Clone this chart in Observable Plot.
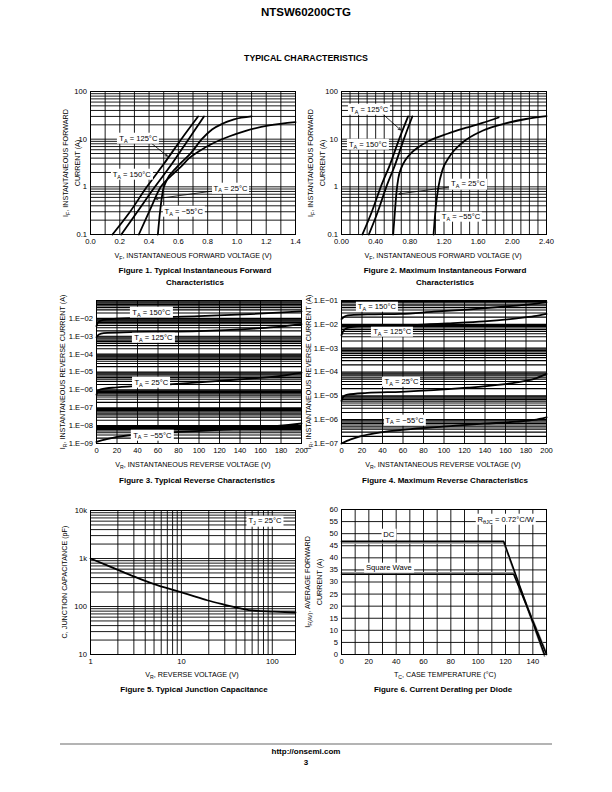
<!DOCTYPE html>
<html><head><meta charset="utf-8">
<script src="https://cdn.jsdelivr.net/npm/d3@7"></script>
<script src="https://cdn.jsdelivr.net/npm/@observablehq/plot@0.6"></script>
<style>
html,body{margin:0;padding:0;background:#fff;}
#page{position:relative;width:612px;height:792px;overflow:hidden;font-family:"Liberation Sans",Arial,Helvetica,sans-serif;color:#000;background:#fff;}
.t{position:absolute;white-space:nowrap;line-height:1;transform:translate(-50%,-50%);}
.b{font-weight:bold;}
.ax{font-size:7.2px;}
.cap{font-size:8px;font-weight:bold;}
.yt{transform:translate(-50%,-50%) rotate(-90deg);text-align:center;line-height:11px;}
.lab{position:absolute;white-space:nowrap;line-height:1;background:#fff;padding:1.5px 2px;font-size:7.6px;transform:translate(-50%,-50%);z-index:2;}
.s{font-size:0.72em;position:relative;top:0.32em;}
</style></head><body><div id="page"></div><script>
// ---------------- DATA ----------------
// Figure 1: typical instantaneous forward characteristics [V, A]
const fig1_T150 = [[0.15,0.1],[0.27,0.3],[0.385,1],[0.50,3],[0.62,10],[0.735,30]];
const fig1_T125 = [[0.21,0.1],[0.32,0.3],[0.44,1],[0.555,3],[0.67,10],[0.775,30]];
const fig1_T25  = [[0.33,0.1],[0.41,0.35],[0.48,1.0],[0.55,1.7],[0.62,2.7],[0.67,3.9],[0.75,5.8],[0.83,8],[0.95,11.5],[1.06,15],[1.22,19.4],[1.4,22.7]];
const fig1_Tm55 = [[0.46,0.1],[0.475,0.3],[0.495,0.84],[0.52,1.36],[0.59,2.6],[0.69,5.3],[0.76,10],[0.83,16],[0.9,21],[0.98,26],[1.1,30]];
const fig1_xTicks = [0,0.2,0.4,0.6,0.8,1.0,1.2,1.4];
const fig1_yTicks = [0.1,1,10,100];

// Figure 2: maximum instantaneous forward characteristics [V, A]
const fig2_T150 = [[0.245,0.1],[0.355,0.3],[0.46,1],[0.57,3],[0.675,10],[0.78,30]];
const fig2_T125 = [[0.32,0.1],[0.425,0.3],[0.525,1],[0.63,3],[0.73,10],[0.83,30]];
const fig2_T25  = [[0.605,0.1],[0.625,0.3],[0.645,0.8],[0.665,1.5],[0.70,2.5],[0.75,3.7],[0.82,5.2],[0.90,6.8],[1.04,9.5],[1.24,13],[1.45,17.2],[1.65,22],[1.84,28.5]];
const fig2_Tm55 = [[1.078,0.1],[1.105,0.4],[1.135,1],[1.18,2.2],[1.26,4.2],[1.42,8.6],[1.65,15],[1.93,21.7],[2.16,26.5],[2.4,30.5]];
const fig2_xTicks = [0,0.4,0.8,1.2,1.6,2.0,2.4];
const fig2_yTicks = [0.1,1,10,100];

// Figure 3: typical reverse characteristics [V, A]
const fig3_T150 = [[0,3.7e-3],[1.3,5.6e-3],[4,7.4e-3],[10,8.7e-3],[43,1.07e-2],[100,1.35e-2],[150,1.74e-2],[200,2.45e-2]];
const fig3_T125 = [[0,8.9e-4],[2.3,1.26e-3],[7,1.5e-3],[33,1.7e-3],[100,1.94e-3],[150,2.6e-3],[173,3.2e-3],[200,4.8e-3]];
const fig3_T25  = [[0,5.4e-7],[1.3,8.3e-7],[4,1.07e-6],[20,1.38e-6],[60,1.82e-6],[100,2.6e-6],[150,4.3e-6],[180,6.0e-6],[200,9.1e-6]];
const fig3_Tm55 = [[0,1.23e-9],[10,1.74e-9],[20,2.34e-9],[40,3.16e-9],[80,4.47e-9],[120,5.75e-9],[160,7.76e-9],[200,1.32e-8]];
const fig3_xTicks = [0,20,40,60,80,100,120,140,160,180,200];
const fig3_yTicks = [1e-9,1e-8,1e-7,1e-6,1e-5,1e-4,1e-3,1e-2];

// Figure 4: maximum reverse characteristics [V, A]
const fig4_T150 = [[0,1.66e-2],[2,2.0e-2],[4,2.24e-2],[9,2.45e-2],[30,2.63e-2],[58,2.75e-2],[90,3.39e-2],[123,4.17e-2],[155,5.37e-2],[188,7.24e-2],[200,8.51e-2]];
const fig4_T125 = [[0,3.55e-3],[2.6,5.9e-3],[7.5,7.4e-3],[25,8.7e-3],[74,9.5e-3],[106,1.1e-2],[139,1.32e-2],[171,1.78e-2],[188,2.19e-2],[200,2.75e-2]];
const fig4_T25  = [[0,6.2e-6],[1.9,9.3e-6],[5.8,1.12e-5],[25,1.32e-5],[58,1.48e-5],[90,1.74e-5],[123,2.19e-5],[155,2.95e-5],[171,3.7e-5],[188,5.1e-5],[200,8.3e-5]];
const fig4_Tm55 = [[0,1.0e-7],[9,1.48e-7],[19,2.04e-7],[41.6,3.09e-7],[74,4.27e-7],[106,5.37e-7],[139,6.76e-7],[171,8.3e-7],[188,9.8e-7],[200,1.26e-6]];
const fig4_xTicks = [0,20,40,60,80,100,120,140,160,180,200];
const fig4_yTicks = [1e-7,1e-6,1e-5,1e-4,1e-3,1e-2,1e-1];

// Figure 5: typical junction capacitance [V, pF]
const fig5_C = [[1,1000],[1.5,727],[2.33,513],[3.55,371],[5.42,278],[8.27,219],[12.6,172],[19.2,135],[29.3,110],[44.8,91],[55,84],[70,81],[104,78],[180,75]];
const fig5_xTicks = [1,10,100];
const fig5_yTicks = [10,100,1000,10000];
const fig5_yLabels = ["10","100","1k","10k"];

// Figure 6: current derating per diode [°C, A]
const fig6_DC = [[0,46.8],[118.7,46.8],[148.5,0]];
const fig6_SW = [[0,33.2],[126,33.2],[150,0]];
const fig6_xTicks = [0,20,40,60,80,100,120,140];
const fig6_yTicks = [0,5,10,15,20,25,30,35,40,45,50,55,60];

// annotation anchors (data coordinates)
const fig1_labels = [{x:0.33,y:10.2,t:"T<span class=s>A</span> = 125°C"},{x:0.285,y:1.79,t:"T<span class=s>A</span> = 150°C"},{x:0.96,y:0.92,t:"T<span class=s>A</span> = 25°C"},{x:0.64,y:0.30,t:"T<span class=s>A</span> = −55°C"}];
const fig1_arrows = [{x1:0.40,y1:9,x2:0.525,y2:4.4},{x1:0.96,y1:0.92,x2:0.445,y2:0.56}];
const fig2_labels = [{x:0.33,y:41,t:"T<span class=s>A</span> = 125°C"},{x:0.316,y:7.6,t:"T<span class=s>A</span> = 150°C"},{x:1.487,y:1.12,t:"T<span class=s>A</span> = 25°C"},{x:1.405,y:0.23,t:"T<span class=s>A</span> = −55°C"}];
const fig2_arrows = [{x1:0.45,y1:38,x2:0.69,y2:15.7},{x1:1.487,y1:1.12,x2:0.671,y2:0.71}];
const fig3_labels = [{x:54,y:2.0e-2,t:"T<span class=s>A</span> = 150°C"},{x:56,y:7.8e-4,t:"T<span class=s>A</span> = 125°C"},{x:54,y:2.5e-6,t:"T<span class=s>A</span> = 25°C"},{x:55,y:2.8e-9,t:"T<span class=s>A</span> = −55°C"}];
const fig4_labels = [{x:35,y:5.2e-2,t:"T<span class=s>A</span> = 150°C"},{x:50,y:4.7e-3,t:"T<span class=s>A</span> = 125°C"},{x:59,y:3.7e-5,t:"T<span class=s>A</span> = 25°C"},{x:62,y:9.1e-7,t:"T<span class=s>A</span> = −55°C"}];
const fig5_labels = [{x:84,y:5900,t:"T<span class=s>J</span> = 25°C"}];
const fig6_labels = [{x:35,y:49.5,t:"DC"},{x:35,y:35.7,t:"Square Wave"},{x:120.6,y:55.7,t:"R<span class=s>θJC</span> = 0.72°C/W"}];

// ---------------- LAYOUT ----------------
const FONT = '"Liberation Sans", Arial, Helvetica, sans-serif';
const page = document.getElementById("page");
const M = {left: 46, right: 16, top: 8, bottom: 16};
const F1 = {x0:90, x1:295, y0:91, y1:234};
const F2 = {x0:341, x1:546, y0:91, y1:234};
const F3 = {x0:96, x1:301, y0:300, y1:443};
const F4 = {x0:341, x1:546, y0:300, y1:443};
const F5 = {x0:90, x1:295, y0:510, y1:654};
const F6 = {x0:341, x1:546, y0:509, y1:654};

function logGrid(lo, hi) {
  const g = [];
  for (let e = lo; e < hi; e++) for (let k = 1; k < 10; k++) g.push(k * Math.pow(10, e));
  g.push(Math.pow(10, hi));
  return g;
}
const gridS = {stroke: "#000", strokeWidth: 0.9};
const gridDense = {stroke: "#000", strokeWidth: 1.1};
const curveS = {x: d => d[0], y: d => d[1], stroke: "#000", strokeWidth: 1.8, curve: "monotone-x"};
const arrowS = {x1: "x1", y1: "y1", x2: "x2", y2: "y2", stroke: "#000", strokeWidth: 0.8, headLength: 4.5};
const axX = (ticks, fmt) => Plot.axisX({ticks, tickSize: 0, tickPadding: 4, tickFormat: fmt, label: null});
const axY = (ticks, fmt) => Plot.axisY({ticks, tickSize: 0, tickPadding: 3.5, tickFormat: fmt, label: null});
const eFmt = d => "1.E−" + String(Math.round(-Math.log10(d))).padStart(2, "0");

function chart(F, xOpt, yOpt, marks) {
  const svg = Plot.plot({
    width: F.x1 - F.x0 + M.left + M.right,
    height: F.y1 - F.y0 + M.top + M.bottom,
    marginLeft: M.left, marginRight: M.right, marginTop: M.top, marginBottom: M.bottom,
    x: xOpt, y: yOpt,
    style: {fontFamily: FONT, fontSize: "7.6px", color: "#000", background: "none", overflow: "visible"},
    marks
  });
  const ox = F.x0 - M.left, oy = F.y0 - M.top;
  Object.assign(svg.style, {position: "absolute", left: ox + "px", top: oy + "px", maxWidth: "none"});
  page.appendChild(svg);
  const sx = svg.scale("x"), sy = svg.scale("y");
  return {px: v => ox + sx.apply(v), py: v => oy + sy.apply(v)};
}
function labels(P, list) {
  for (const l of list) {
    const d = document.createElement("div");
    d.className = "lab"; d.innerHTML = l.t;
    d.style.left = P.px(l.x) + "px"; d.style.top = P.py(l.y) + "px";
    page.appendChild(d);
  }
}
function txt(html, x, y, cls, size) {
  const d = document.createElement("div");
  d.className = "t " + cls; d.innerHTML = html;
  d.style.left = x + "px"; d.style.top = y + "px";
  if (size) d.style.fontSize = size;
  page.appendChild(d);
}

// Figure 1
const P1 = chart(F1, {type: "linear", domain: [0, 1.4]}, {type: "log", domain: [0.1, 100]}, [
  Plot.ruleX(d3.range(0, 15).map(i => i / 10), gridS),
  Plot.ruleY(logGrid(-1, 2), gridS),
  Plot.line(fig1_T150, curveS), Plot.line(fig1_T125, curveS),
  Plot.line(fig1_T25, curveS), Plot.line(fig1_Tm55, curveS),
  Plot.arrow(fig1_arrows, arrowS),
  Plot.frame({stroke: "#000", strokeWidth: 1}),
  axX(fig1_xTicks, d3.format(".1f")), axY(fig1_yTicks, d => String(d))
]);
labels(P1, fig1_labels);

// Figure 2
const P2 = chart(F2, {type: "linear", domain: [0, 2.4]}, {type: "log", domain: [0.1, 100]}, [
  Plot.ruleX(d3.range(0, 25).map(i => i / 10), gridS),
  Plot.ruleY(logGrid(-1, 2), gridS),
  Plot.line(fig2_T150, curveS), Plot.line(fig2_T125, curveS),
  Plot.line(fig2_T25, curveS), Plot.line(fig2_Tm55, curveS),
  Plot.arrow(fig2_arrows, arrowS),
  Plot.frame({stroke: "#000", strokeWidth: 1}),
  axX(fig2_xTicks, d3.format(".2f")), axY(fig2_yTicks, d => String(d))
]);
labels(P2, fig2_labels);

// Figure 3
const P3 = chart(F3, {type: "linear", domain: [0, 200]}, {type: "log", domain: [1e-9, 1e-1]}, [
  Plot.ruleX(d3.range(0, 201, 20), gridS),
  Plot.ruleY(logGrid(-9, -1), gridDense),
  Plot.line(fig3_T150, curveS), Plot.line(fig3_T125, curveS),
  Plot.line(fig3_T25, curveS), Plot.line(fig3_Tm55, curveS),
  Plot.frame({stroke: "#000", strokeWidth: 1}),
  axX(fig3_xTicks, d => String(d)), axY(fig3_yTicks, eFmt)
]);
labels(P3, fig3_labels);

// Figure 4
const P4 = chart(F4, {type: "linear", domain: [0, 200]}, {type: "log", domain: [1e-7, 1e-1]}, [
  Plot.ruleX(d3.range(0, 201, 20), gridS),
  Plot.ruleY(logGrid(-7, -1), gridDense),
  Plot.line(fig4_T150, curveS), Plot.line(fig4_T125, curveS),
  Plot.line(fig4_T25, curveS), Plot.line(fig4_Tm55, curveS),
  Plot.frame({stroke: "#000", strokeWidth: 1}),
  axX(fig4_xTicks, d => String(d)), axY(fig4_yTicks, eFmt)
]);
labels(P4, fig4_labels);

// Figure 5
const P5 = chart(F5, {type: "log", domain: [1, 180]}, {type: "log", domain: [10, 10000]}, [
  Plot.ruleX(logGrid(0, 2), gridS),
  Plot.ruleY(logGrid(1, 4), gridS),
  Plot.line(fig5_C, curveS),
  Plot.frame({stroke: "#000", strokeWidth: 1}),
  axX(fig5_xTicks, d => String(d)),
  axY(fig5_yTicks, d => fig5_yLabels[fig5_yTicks.indexOf(d)])
]);
labels(P5, fig5_labels);

// Figure 6
const lin6 = {x: d => d[0], y: d => d[1], curve: "linear"};
const P6 = chart(F6, {type: "linear", domain: [0, 150]}, {type: "linear", domain: [0, 60]}, [
  Plot.ruleX(d3.range(0, 151, 10), gridS),
  Plot.ruleY(d3.range(0, 61, 5), gridS),
  Plot.line(fig6_DC, {...lin6, stroke: "#9a9a9a", strokeWidth: 1.6, dy: 1.6}),
  Plot.line(fig6_SW, {...lin6, stroke: "#9a9a9a", strokeWidth: 1.6, dy: -1.4}),
  Plot.line(fig6_DC, {...lin6, stroke: "#000", strokeWidth: 1.6}),
  Plot.line(fig6_SW, {...lin6, stroke: "#000", strokeWidth: 1.6}),
  Plot.frame({stroke: "#000", strokeWidth: 1}),
  axX(fig6_xTicks, d => String(d)), axY(fig6_yTicks, d => String(d))
]);
labels(P6, fig6_labels);

// ---------------- TEXT ----------------
txt("NTSW60200CTG", 306, 13, "b", "11.5px");
txt("TYPICAL CHARACTERISTICS", 306, 58, "b", "8.8px");

txt("I<span class=s>F</span>, INSTANTANEOUS FORWARD<br>CURRENT (A)", 71, 163, "ax yt");
txt("V<span class=s>F</span>, INSTANTANEOUS FORWARD VOLTAGE (V)", 193, 256, "ax");
txt("Figure 1. Typical Instantaneous Forward", 195, 271, "cap");
txt("Characteristics", 195, 283, "cap");

txt("I<span class=s>F</span>, INSTANTANEOUS FORWARD<br>CURRENT (A)", 316, 163, "ax yt");
txt("V<span class=s>F</span>, INSTANTANEOUS FORWARD VOLTAGE (V)", 443, 256, "ax");
txt("Figure 2. Maximum Instantaneous Forward", 445, 271, "cap");
txt("Characteristics", 445, 283, "cap");

txt("I<span class=s>R</span>, INSTANTANEOUS REVERSE CURRENT (A)", 63, 372, "ax yt");
txt("V<span class=s>R</span>, INSTANTANEOUS REVERSE VOLTAGE (V)", 193, 465, "ax");
txt("Figure 3. Typical Reverse Characteristics", 197, 481, "cap");

txt("I<span class=s>R</span>, INSTANTANEOUS REVERSE CURRENT (A)", 309, 372, "ax yt");
txt("V<span class=s>R</span>, INSTANTANEOUS REVERSE VOLTAGE (V)", 443, 465, "ax");
txt("Figure 4. Maximum Reverse Characteristics", 445, 481, "cap");

txt("C, JUNCTION CAPACITANCE (pF)", 64, 582, "ax yt");
txt("V<span class=s>R</span>, REVERSE VOLTAGE (V)", 192, 675, "ax");
txt("Figure 5. Typical Junction Capacitance", 194, 690, "cap");

txt("I<span class=s>F(AV)</span>, AVERAGE FORWARD<br>CURRENT (A)", 313, 582, "ax yt");
txt("T<span class=s>C</span>, CASE TEMPERATURE (°C)", 445, 675, "ax");
txt("Figure 6. Current Derating per Diode", 443, 690, "cap");

const hr = document.createElement("div");
Object.assign(hr.style, {position: "absolute", left: "60px", top: "743px", width: "492px", height: "1.5px", background: "#b4b4b4"});
page.appendChild(hr);
txt("http://onsemi.com", 306, 752, "cap");
txt("3", 306, 763, "cap");
</script></body></html>
